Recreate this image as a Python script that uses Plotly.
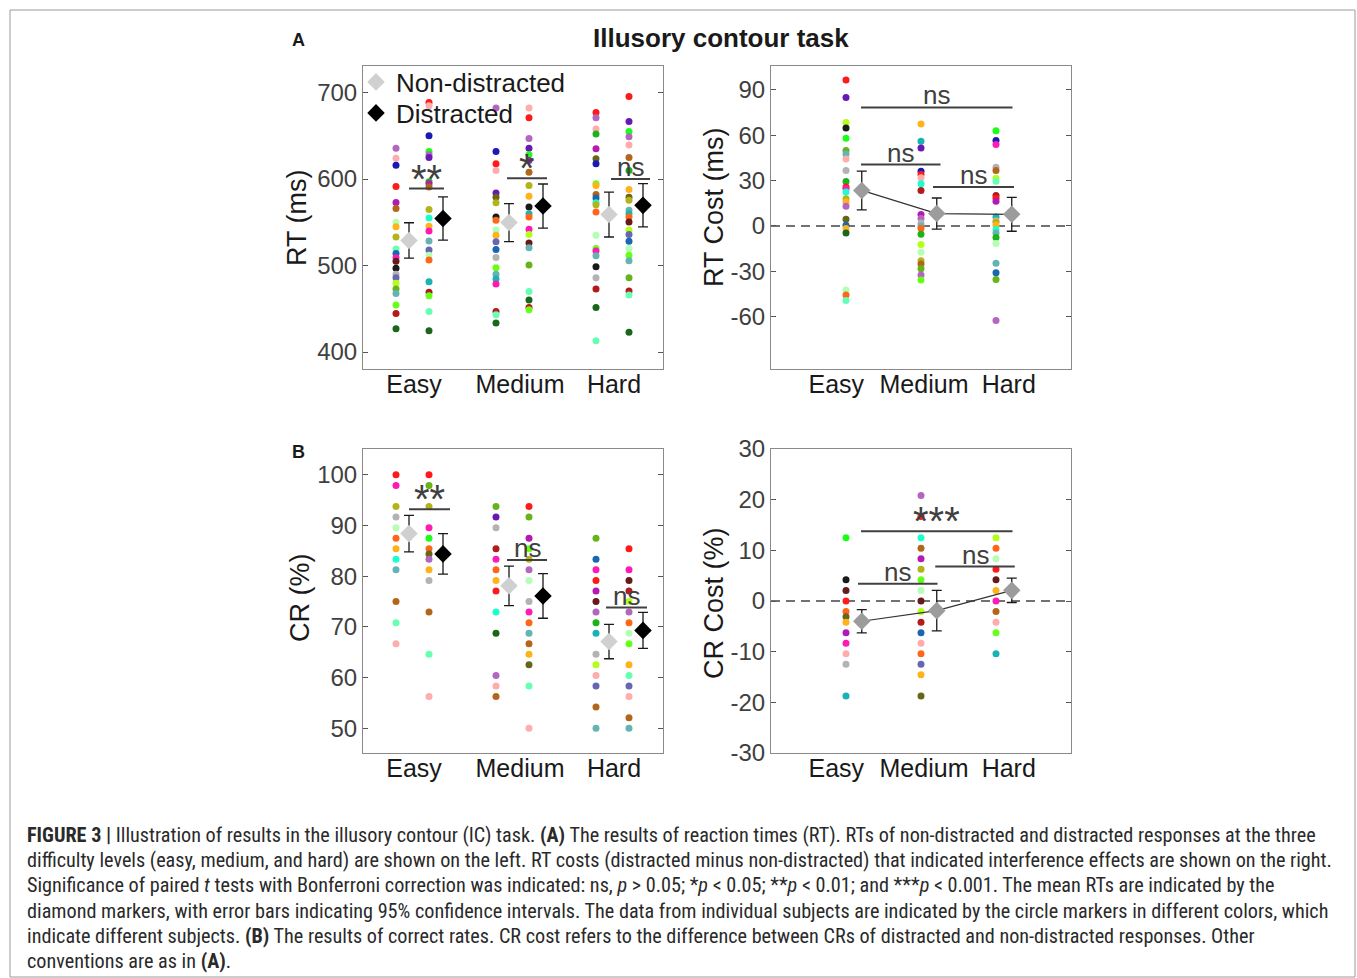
import plotly.graph_objects as go

W, H = 1357, 978
FONT = "Liberation Sans, Arial, sans-serif"

categories = ["Easy", "Medium", "Hard"]
cat_pos = [1, 2, 3]

palette = {
    "red": "#ff1a1a", "pink": "#ffacac", "orchid": "#b366bf", "purple": "#661ab3",
    "mpurple": "#b31ab3", "blue": "#1a1ab3", "steel": "#1a66b3", "slate": "#6666b3",
    "green": "#1aff1a", "lime": "#66ff1a", "lyellow": "#b3ff1a", "odrab": "#66b31a",
    "dgreen": "#1a661a", "green2": "#1ab31a", "olive": "#b3b31a", "dolive": "#66661a",
    "brown": "#b3661a", "orange": "#ffb31a", "ored": "#ff661a", "fire": "#b31a1a",
    "maroon": "#661a1a", "black": "#1a1a1a", "gray": "#b3b3b3", "pgreen": "#b3ffb3",
    "aqua": "#66ffb3", "teal": "#1affcc", "cadet": "#66b3b3", "dcyan": "#1ab3b3",
    "magenta": "#ff1ab3",
}

# ---------------- RT (ms) : individual subjects ----------------
rt_nd = [
    [635.6, 624, 616, 591.5, 573, 566, 550, 545, 533, 519, 514, 509, 505, 497, 490, 486, 479.5, 473, 467.6, 454.5, 444.5, 427],
    [682, 631.8, 617.6, 610, 584, 579, 572.7, 556, 552.4, 541, 535, 527.4, 518.6, 509.4, 497.5, 490, 484.5, 478.7, 447, 443, 433.5],
    [677, 671, 658, 652, 635, 623.4, 617.6, 594.6, 592.6, 582, 578, 572.7, 570.4, 562, 535, 519.8, 516.7, 511.3, 498.6, 486, 473, 451.5, 413],
]
rt_nd_col = [
    ["orchid", "pink", "blue", "red", "mpurple", "brown", "pgreen", "orange", "olive", "aqua", "steel", "magenta", "maroon", "black", "gray", "slate", "lyellow", "odrab", "cadet", "lime", "fire", "dgreen"],
    ["orchid", "blue", "red", "pink", "purple", "dolive", "olive", "black", "ored", "pgreen", "orange", "slate", "steel", "gray", "lime", "cadet", "dcyan", "magenta", "fire", "aqua", "dgreen"],
    ["red", "orchid", "pink", "green2", "mpurple", "dolive", "blue", "lime", "orange", "brown", "steel", "teal", "olive", "ored", "pgreen", "lime", "magenta", "cadet", "black", "gray", "fire", "dgreen", "aqua"],
]
rt_d = [
    [688.5, 684.7, 650, 631.8, 628, 625, 597, 594.5, 590.7, 564.7, 555, 545.5, 540, 528.5, 518, 512, 506.3, 481.4, 469, 465, 447, 424.6],
    [682, 671, 647, 635.6, 628, 621.4, 608, 592.6, 580, 567.7, 560, 556, 542, 536, 526, 520.5, 500.6, 470, 460.3, 451.5, 449],
    [695.4, 666.6, 655, 649, 639.5, 625, 610, 588, 579, 575.4, 564, 560, 556, 550.4, 541, 536, 528, 519.8, 512, 505.5, 486, 470.7, 466, 423],
]
rt_d_col = [
    ["red", "pink", "blue", "green", "orchid", "purple", "green2", "mpurple", "brown", "olive", "teal", "orange", "magenta", "cadet", "slate", "pgreen", "ored", "dcyan", "fire", "lime", "aqua", "dgreen"],
    ["pink", "red", "orchid", "purple", "green", "mpurple", "brown", "olive", "orange", "black", "dcyan", "ored", "magenta", "lyellow", "maroon", "cadet", "odrab", "aqua", "dgreen", "fire", "lime"],
    ["red", "purple", "green", "orchid", "pink", "brown", "green2", "orange", "dolive", "olive", "cadet", "dcyan", "ored", "maroon", "lyellow", "slate", "steel", "pgreen", "lime", "cadet", "odrab", "fire", "aqua", "dgreen"],
]
rt_nd_mean = [529, 549.7, 559]
rt_nd_ci = [20.5, 22, 26]
rt_d_mean = [554.3, 568.8, 569.6]
rt_d_ci = [25, 25.5, 25]
rt_ticks = [400, 500, 600, 700]

# ---------------- RT cost (ms) ----------------
rtc = [
    [96.5, 84.9, 68.4, 64.7, 57.9, 49.8, 47.6, 44.3, 36.6, 29.4, 25.7, 24.6, 22.4, 18, 15.8, 13, 4.4, 0.5, -1.7, -4.6, -42.3, -45.6, -49.3],
    [67.4, 55.9, 51.6, 36.2, 34, 31.8, 27.9, 23.5, 7.5, 4.9, 2, 0, -1.7, -5.5, -12.2, -17.3, -23, -25.2, -28.3, -32.4, -35.7],
    [63, 56.4, 53.8, 38.8, 36.6, 31.6, 29.6, 20.2, 18.4, 16.4, 5.9, 3.3, 2.6, 0.5, -2.4, -4.6, -7.6, -11.6, -24.7, -30.9, -35.3, -62.5],
]
rtc_col = [
    ["red", "purple", "lyellow", "black", "green", "odrab", "cadet", "pink", "gray", "green2", "red", "magenta", "teal", "olive", "orange", "orchid", "dolive", "steel", "orange", "dgreen", "pgreen", "ored", "aqua"],
    ["orange", "dcyan", "purple", "blue", "red", "pink", "teal", "fire", "mpurple", "orchid", "gray", "cadet", "ored", "green2", "lyellow", "pgreen", "olive", "brown", "odrab", "orchid", "lime"],
    ["green", "blue", "magenta", "gray", "brown", "lyellow", "aqua", "fire", "red", "mpurple", "dcyan", "pink", "olive", "orange", "teal", "cadet", "green2", "pgreen", "cadet", "steel", "odrab", "orchid"],
]
rtc_mean = [23.5, 8.2, 7.7]
rtc_ci = [12.8, 10.3, 11.2]
rtc_ticks = [-60, -30, 0, 30, 60, 90]

# ---------------- CR (%) ----------------
cr_nd = [
    [100, 97.92, 93.75, 91.67, 89.58, 87.5, 85.42, 83.33, 81.25, 75, 70.83, 66.67],
    [93.75, 91.67, 89.58, 85.42, 83.33, 81.25, 79.17, 77.08, 72.92, 68.75, 60.42, 58.33, 56.25],
    [87.5, 83.33, 81.25, 79.17, 77.08, 75, 72.92, 70.83, 68.75, 64.58, 62.5, 60.42, 58.33, 54.17, 50],
]
cr_nd_col = [
    ["red", "magenta", "olive", "gray", "pgreen", "ored", "orange", "teal", "cadet", "brown", "aqua", "pink"],
    ["odrab", "purple", "gray", "fire", "magenta", "ored", "orange", "red", "teal", "dgreen", "orchid", "pink", "brown"],
    ["odrab", "steel", "magenta", "red", "mpurple", "maroon", "orchid", "green2", "dcyan", "gray", "lyellow", "pink", "slate", "brown", "cadet"],
]
cr_d = [
    [100, 97.92, 93.75, 89.58, 87.5, 85.42, 84.4, 83.33, 81.25, 79.17, 72.92, 64.58, 56.25],
    [93.75, 91.67, 87.5, 85.42, 83.33, 81.25, 79.17, 75, 72.92, 70.83, 68.75, 66.67, 64.58, 62.5, 58.33, 50],
    [85.42, 81.25, 79.17, 77.08, 75, 72.92, 70.83, 68.75, 66.67, 62.5, 60.42, 58.33, 56.25, 52.08, 50],
]
cr_d_col = [
    ["red", "odrab", "olive", "magenta", "green", "ored", "dolive", "orchid", "orange", "gray", "brown", "aqua", "pink"],
    ["red", "odrab", "mpurple", "lime", "olive", "orchid", "pgreen", "gray", "magenta", "ored", "cadet", "brown", "orange", "dolive", "aqua", "pink"],
    ["red", "magenta", "maroon", "fire", "lyellow", "orchid", "ored", "pgreen", "lime", "orange", "aqua", "slate", "pink", "brown", "cadet"],
]
cr_nd_mean = [88.4, 78.1, 67.1]
cr_nd_ci = [3.6, 3.9, 3.4]
cr_d_mean = [84.4, 76.1, 69.3]
cr_d_ci = [4.0, 4.4, 3.55]
cr_ticks = [50, 60, 70, 80, 90, 100]

# ---------------- CR cost (%) ----------------
crc = [
    [12.5, 4.17, 2.08, 0, -2.08, -3.1, -4.17, -6.25, -8.33, -10.42, -12.5, -18.75],
    [20.83, 16.67, 12.5, 10.42, 8.33, 6.25, 4.17, 2.08, 0, -2.08, -4.17, -6.25, -8.33, -10.42, -12.5, -14.58, -18.75],
    [12.5, 10.42, 8.33, 6.25, 4.17, 2.08, 0, -2.08, -4.17, -6.25, -10.42],
]
crc_col = [
    ["green", "black", "maroon", "red", "ored", "dolive", "orange", "mpurple", "magenta", "pink", "gray", "dcyan"],
    ["orchid", "red", "teal", "brown", "mpurple", "olive", "lime", "pgreen", "maroon", "lyellow", "fire", "steel", "pink", "ored", "slate", "orange", "dolive"],
    ["lyellow", "ored", "pgreen", "red", "maroon", "orange", "magenta", "brown", "pink", "lime", "dcyan"],
]
crc_mean = [-4.0, -1.9, 2.1]
crc_ci = [2.3, 4.0, 2.4]
crc_ticks = [-30, -20, -10, 0, 10, 20, 30]

# significance bars: (x0, x1, y, label)
sig_rt = [(0.96, 1.31, 589, "**"), (1.94, 2.34, 601, "*"), (2.98, 3.37, 600, "ns")]
sig_rtc = [(1.2, 3.22, 78.3, "ns"), (1.2, 2.26, 40.6, "ns"), (2.16, 3.24, 25.7, "ns")]
sig_cr = [(0.96, 1.37, 93.2, "**"), (1.94, 2.34, 83.2, "ns"), (2.93, 3.34, 73.8, "ns")]
sig_crc = [(1.2, 3.22, 13.75, "***"), (1.16, 2.22, 3.4, "ns"), (2.19, 3.25, 6.8, "ns")]

# ---------------- layout helpers ----------------
def px_x(p):
    return p / W

def px_y(p):
    return 1 - p / H

panels = {
    "1": (363, 663, 66, 369),
    "2": (771, 1071, 66, 369),
    "3": (363, 663, 449, 753),
    "4": (771, 1071, 449, 753),
}

fig = go.Figure()

OFF_DOT_ND, OFF_DOT_D, OFF_DIA_ND, OFF_DIA_D = -0.17, 0.16, -0.04, 0.30
OFF_COST_DIA = 0.21

def add_dots(vals_lists, col_lists, offset, ax):
    for c, vals, cols in zip(cat_pos, vals_lists, col_lists):
        fig.add_trace(go.Scatter(
            x=[c + offset] * len(vals), y=vals, mode="markers",
            marker=dict(size=7, color=[palette[k] for k in cols], line=dict(width=0)),
            xaxis="x" + ax, yaxis="y" + ax, showlegend=False, hoverinfo="y"))

def add_means(means, ci, offset, ax, color, name=None, line=False, legend=None):
    fig.add_trace(go.Scatter(
        x=[c + offset for c in cat_pos], y=means,
        mode="lines+markers" if line else "markers",
        line=dict(color="#333333", width=1.2),
        marker=dict(symbol="diamond", size=13.5, color=color, line=dict(width=0)),
        error_y=dict(type="data", array=ci, color="#1a1a1a", thickness=1.3, width=5),
        xaxis="x" + ax, yaxis="y" + ax, name=name,
        showlegend=legend is not None, legend=legend or "legend"))

add_dots(rt_nd, rt_nd_col, OFF_DOT_ND, "")
add_dots(rt_d, rt_d_col, OFF_DOT_D, "")
add_means(rt_nd_mean, rt_nd_ci, OFF_DIA_ND, "", "#d0d0d0", "Non-distracted", legend="legend")
add_means(rt_d_mean, rt_d_ci, OFF_DIA_D, "", "#000000", "Distracted", legend="legend2")

add_dots(rtc, rtc_col, 0, "2")
add_means(rtc_mean, rtc_ci, OFF_COST_DIA, "2", "#9c9c9c", line=True)

add_dots(cr_nd, cr_nd_col, OFF_DOT_ND, "3")
add_dots(cr_d, cr_d_col, OFF_DOT_D, "3")
add_means(cr_nd_mean, cr_nd_ci, OFF_DIA_ND, "3", "#d0d0d0")
add_means(cr_d_mean, cr_d_ci, OFF_DIA_D, "3", "#000000")

add_dots(crc, crc_col, 0, "4")
add_means(crc_mean, crc_ci, OFF_COST_DIA, "4", "#9c9c9c", line=True)

AX_LINE = "#8a8a8a"
TICK_COLOR = "#404040"

def xaxis_cfg(key, rng, tickvals):
    xl, xr, yt, yb = panels[key]
    return dict(domain=[px_x(xl), px_x(xr)], range=rng, anchor="y" if key == "1" else "y" + key,
                showline=True, linecolor=AX_LINE, linewidth=1, mirror=True,
                showgrid=False, zeroline=False, ticks="",
                tickvals=tickvals, ticktext=categories, ticklabelstandoff=-7,
                tickfont=dict(size=25, color="#1a1a1a", family=FONT))

def yaxis_cfg(key, rng, ticks):
    xl, xr, yt, yb = panels[key]
    return dict(domain=[px_y(yb), px_y(yt)], range=rng, anchor="x" if key == "1" else "x" + key,
                showline=True, linecolor=AX_LINE, linewidth=1, mirror="ticks",
                showgrid=False, zeroline=False, ticks="inside", ticklen=5,
                tickcolor="#555555", tickwidth=1,
                tickvals=ticks, ticktext=[str(t) for t in ticks],
                tickfont=dict(size=24, color=TICK_COLOR, family=FONT))

fig.update_layout(
    xaxis=xaxis_cfg("1", [0.5, 3.5], [1.01, 2.07, 3.01]),
    yaxis=yaxis_cfg("1", [380.4, 730.7], rt_ticks),
    xaxis2=xaxis_cfg("2", [0, 4], [0.87, 2.04, 3.17]),
    yaxis2=yaxis_cfg("2", [-94.5, 105.7], rtc_ticks),
    xaxis3=xaxis_cfg("3", [0.5, 3.5], [1.01, 2.07, 3.01]),
    yaxis3=yaxis_cfg("3", [45.1, 105.1], cr_ticks),
    xaxis4=xaxis_cfg("4", [0, 4], [0.87, 2.04, 3.17]),
    yaxis4=yaxis_cfg("4", [-30, 30], crc_ticks),
)

shapes = []
annots = []

def add_sig(sigs, ax):
    for x0, x1, y, label in sigs:
        shapes.append(dict(type="line", xref="x" + ax, yref="y" + ax, x0=x0, x1=x1, y0=y, y1=y,
                           line=dict(color="#404040", width=2)))
        star = label.startswith("*")
        annots.append(dict(xref="x" + ax, yref="y" + ax, x=(x0 + x1) / 2, y=y, text=label,
                           showarrow=False, yanchor="bottom", yshift=-14 if star else -5,
                           font=dict(size=40 if star else 26, color="#404040", family=FONT)))

add_sig(sig_rt, "")
add_sig(sig_rtc, "2")
add_sig(sig_cr, "3")
add_sig(sig_crc, "4")

for ax in ["2", "4"]:
    shapes.append(dict(type="line", xref="x" + ax + " domain", yref="y" + ax, x0=0, x1=1, y0=0, y1=0,
                       line=dict(color="#444444", width=1.3, dash="9px,6px"), layer="below"))

# outer frame
shapes.append(dict(type="rect", xref="paper", yref="paper", x0=px_x(10), x1=px_x(1355),
                   y0=px_y(977), y1=px_y(10), line=dict(color="#9a9a9a", width=1)))

def txt(x, y, text, size, color="#1a1a1a", angle=0, xanchor="center", bold=False, family=FONT):
    annots.append(dict(xref="paper", yref="paper", x=px_x(x), y=px_y(y),
                       text=("<b>%s</b>" % text) if bold else text, showarrow=False,
                       textangle=angle, xanchor=xanchor, yanchor="middle",
                       font=dict(size=size, color=color, family=family)))

txt(721, 38, "Illusory contour task", 26, bold=True)
txt(298, 40, "A", 18, bold=True)
txt(298, 452, "B", 18, bold=True)
txt(297, 218, "RT (ms)", 27, angle=-90)
txt(714, 207, "RT Cost (ms)", 27, angle=-90)
txt(300, 598, "CR (%)", 27, angle=-90)
txt(714, 603, "CR Cost (%)", 27, angle=-90)

CAP_FONT = "Liberation Sans Narrow, Roboto Condensed, Liberation Sans, sans-serif"
caption = [
    "<b>FIGURE 3 |</b> Illustration of results in the illusory contour (IC) task. <b>(A)</b> The results of reaction times (RT). RTs of non-distracted and distracted responses at the three",
    "difficulty levels (easy, medium, and hard) are shown on the left. RT costs (distracted minus non-distracted) that indicated interference effects are shown on the right.",
    "Significance of paired <i>t</i> tests with Bonferroni correction was indicated: ns, <i>p</i> &gt; 0.05; *<i>p</i> &lt; 0.05; **<i>p</i> &lt; 0.01; and ***<i>p</i> &lt; 0.001. The mean RTs are indicated by the",
    "diamond markers, with error bars indicating 95% confidence intervals. The data from individual subjects are indicated by the circle markers in different colors, which",
    "indicate different subjects. <b>(B)</b> The results of correct rates. CR cost refers to the difference between CRs of distracted and non-distracted responses. Other",
    "conventions are as in <b>(A)</b>.",
]
for i, line in enumerate(caption):
    txt(25, 835 + i * 25.2, line, 20.2, color="#2a2a2a", xanchor="left", family=CAP_FONT)

leg_common = dict(x=px_x(356), xanchor="left", yanchor="middle", bgcolor="rgba(0,0,0,0)",
                  font=dict(size=26, color="#1a1a1a", family=FONT), borderwidth=0)

fig.update_layout(
    width=W, height=H, margin=dict(l=0, r=0, t=0, b=0, autoexpand=False),
    paper_bgcolor="white", plot_bgcolor="white",
    font=dict(family=FONT),
    shapes=shapes, annotations=annots,
    showlegend=True,
    legend=dict(y=px_y(82), **leg_common),
    legend2=dict(y=px_y(113), **leg_common),
)

fig.write_html("out.html", config={"displayModeBar": False},
               post_script="document.body.style.margin='0px';")
